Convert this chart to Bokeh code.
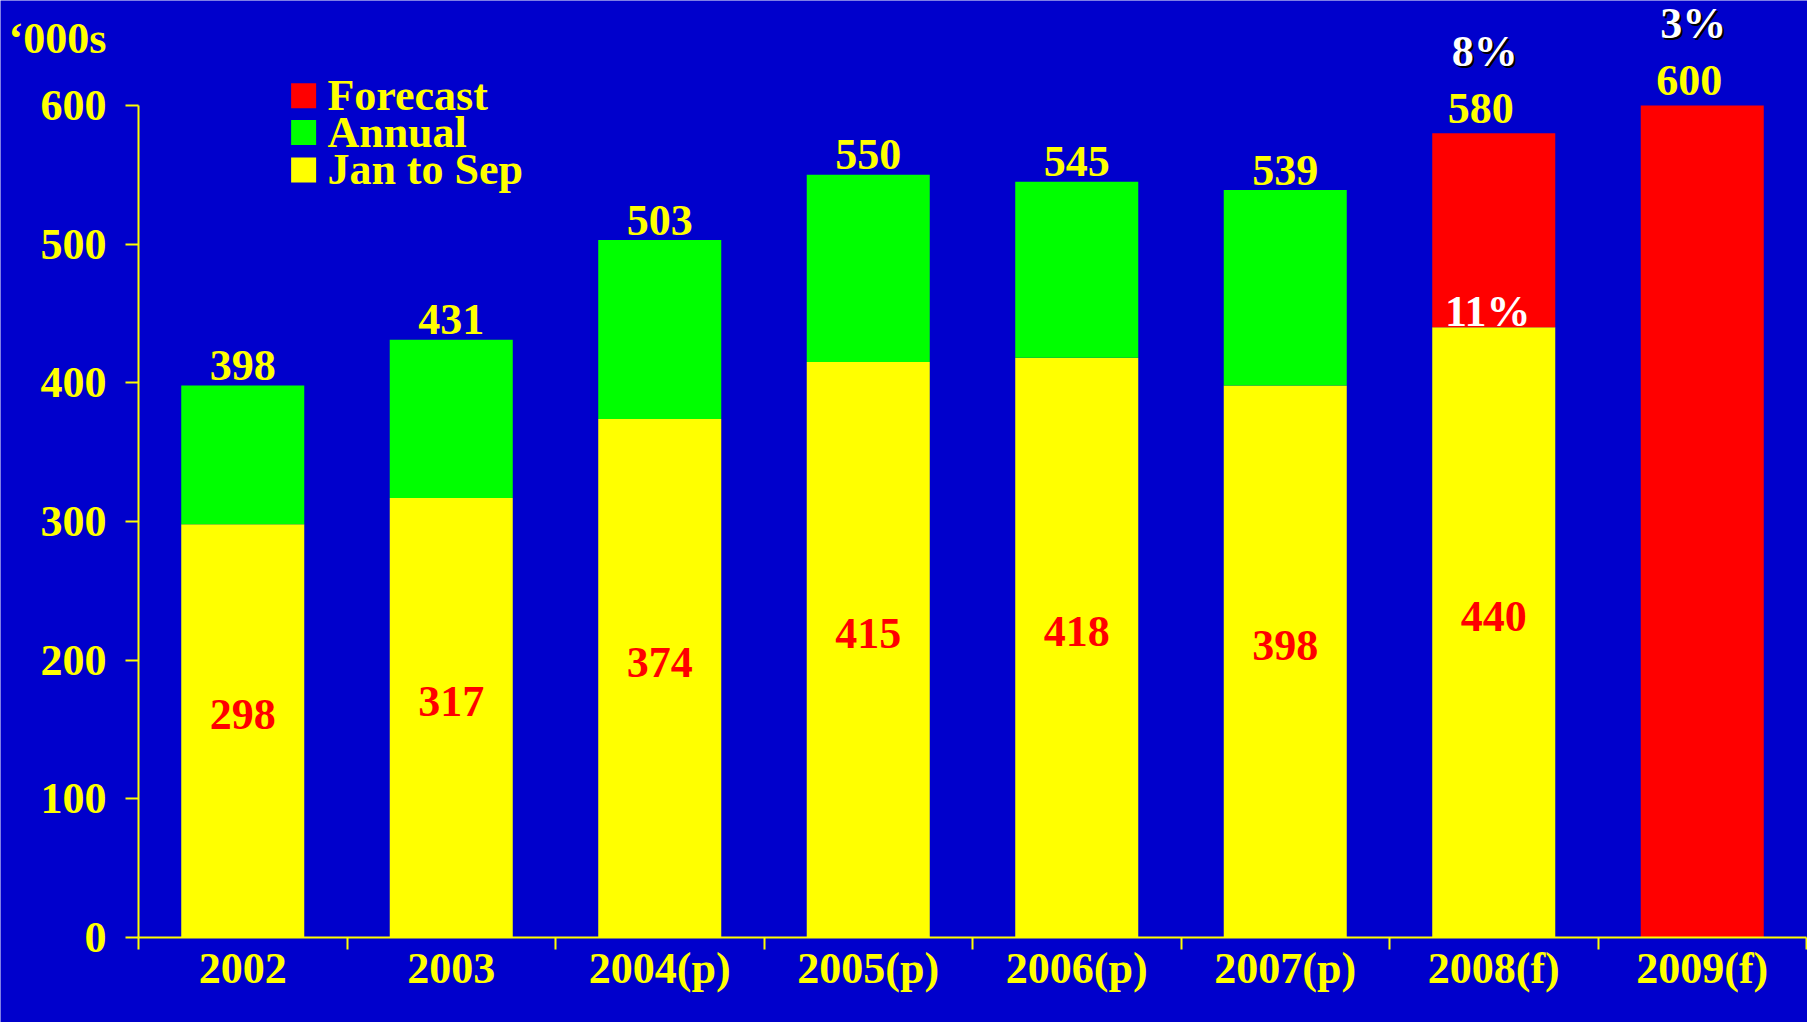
import re
from bokeh.plotting import figure
from bokeh.models import Range1d, FixedTicker, ColumnDataSource
from bokeh.core.properties import value
from bokeh.embed import file_html
from bokeh.resources import INLINE

# ---------------- data ----------------
years = ["2002", "2003", "2004(p)", "2005(p)", "2006(p)", "2007(p)", "2008(f)", "2009(f)"]
jan_sep = [298, 317, 374, 415, 418, 398, 440, None]
annual = [398, 431, 503, 550, 545, 539, None, None]
forecast = [None, None, None, None, None, None, 580, 600]
jan_growth = [None, None, None, None, None, None, "11%", None]
annual_growth = [None, None, None, None, None, None, "8%", "3%"]
legend_labels = ["Forecast", "Annual", "Jan to Sep"]
y_ticks = [0, 100, 200, 300, 400, 500, 600]
unit_label = "\u2018000s"

BG = "#0000CC"
YEL = "#FFFF00"
GRN = "#00FF00"
RED = "#FF0000"
FONT = "Liberation Serif"
FS = "44px"

W, H = 1807, 1022
X0 = 138           # page x of the y axis
PX_X = 208.5       # pixels per category
PX_Y = 1.38667     # pixels per unit
Y0 = 937           # page y of value 0
x_start = -X0 / PX_X
p = figure(width=W, height=H, output_backend="svg", toolbar_location=None,
           x_range=Range1d(x_start, x_start + W / PX_X),
           y_range=Range1d(-(H - Y0) / PX_Y, Y0 / PX_Y),
           min_border_left=0, min_border_right=0, min_border_top=0, min_border_bottom=0)
p.background_fill_color = BG
p.border_fill_color = BG
p.outline_line_color = None
p.xgrid.visible = False
p.ygrid.visible = False

xc = [i + 0.5 for i in range(len(years))]
BW = 0.59

# yellow (Jan to Sep)
ys = ColumnDataSource(dict(x=[xc[i] for i, v in enumerate(jan_sep) if v is not None],
                           top=[v for v in jan_sep if v is not None]))
p.vbar(x="x", top="top", bottom=0, width=BW, source=ys, fill_color=YEL, line_color=None)

# green (Annual)
gi = [i for i, v in enumerate(annual) if v is not None]
gs = ColumnDataSource(dict(x=[xc[i] for i in gi], bottom=[jan_sep[i] for i in gi], top=[annual[i] for i in gi]))
p.vbar(x="x", top="top", bottom="bottom", width=BW, source=gs, fill_color=GRN, line_color=None)

# red (Forecast)
fi = [i for i, v in enumerate(forecast) if v is not None]
fs = ColumnDataSource(dict(x=[xc[i] for i in fi], bottom=[jan_sep[i] or 0 for i in fi], top=[forecast[i] for i in fi]))
p.vbar(x="x", top="top", bottom="bottom", width=BW, source=fs, fill_color=RED, line_color=None)

def txt(**kw):
    r = p.text(text_font=value(FONT), text_font_style="bold", text_font_size=FS,
               text_baseline="middle", **kw)
    r.level = "overlay"
    return r

# red labels inside yellow bars
ji = [i for i, v in enumerate(jan_sep) if v is not None]
txt(x=[xc[i] for i in ji], y=[jan_sep[i] / 2 for i in ji], text=[str(jan_sep[i]) for i in ji],
    text_color=RED, text_align="center", y_offset=-16)

# totals above bars (actual)
txt(x=[xc[i] for i in gi], y=[annual[i] for i in gi], text=[str(annual[i]) for i in gi],
    text_color=YEL, text_align="center", y_offset=-20)
# totals above bars (forecast)
txt(x=[xc[i] for i in fi], y=[forecast[i] for i in fi], text=[str(forecast[i]) for i in fi],
    text_color=YEL, text_align="center", y_offset=-25, x_offset=-13)

# growth labels
jg = [i for i, v in enumerate(jan_growth) if v is not None]
txt(x=[xc[i] for i in jg], y=[jan_sep[i] for i in jg], text=[jan_growth[i] for i in jg],
    text_color="white", text_align="center", y_offset=-16, x_offset=-6)
ag = [i for i, v in enumerate(annual_growth) if v is not None]
tot = [forecast[i] if forecast[i] is not None else annual[i] for i in ag]
txt(x=[xc[i] for i in ag], y=tot, text=[annual_growth[i] for i in ag],
    text_color="black", text_align="center", y_offset=-80, x_offset=-7)
txt(x=[xc[i] for i in ag], y=tot, text=[annual_growth[i] for i in ag],
    text_color="white", text_align="center", y_offset=-82, x_offset=-9)

# legend (manual)
leg_y = [607, 580.5, 553.5]
leg_c = [RED, GRN, YEL]
p.scatter(x=[0.792] * 3, y=leg_y, marker="square", size=25, fill_color=leg_c, line_color=None)
txt(x=[0.906] * 3, y=leg_y, text=legend_labels, text_color=YEL, text_align="left")

# unit label
txt(x=[-0.154], y=[648], text=[unit_label], text_color=YEL, text_align="right")

# axes
xa = p.xaxis[0]
xa.fixed_location = 0
xa.ticker = FixedTicker(ticks=xc, minor_ticks=list(range(len(years) + 1)))
xa.major_label_overrides = {x: y for x, y in zip(xc, years)}
xa.bounds = (0, len(years))
xa.major_tick_out = 0
xa.major_tick_in = 0
xa.minor_tick_out = 12
xa.minor_tick_in = 0
xa.minor_tick_line_color = YEL
xa.minor_tick_line_width = 2
xa.axis_line_color = YEL
xa.axis_line_width = 2
xa.major_label_text_color = YEL
xa.major_label_text_font = FONT
xa.major_label_text_font_style = "bold"
xa.major_label_text_font_size = FS
xa.major_label_standoff = -6

ya = p.yaxis[0]
ya.fixed_location = 0
ya.ticker = FixedTicker(ticks=y_ticks)
ya.bounds = (0, 600)
ya.major_tick_out = 13
ya.major_tick_in = 0
ya.major_tick_line_color = YEL
ya.major_tick_line_width = 2
ya.minor_tick_line_color = None
ya.axis_line_color = YEL
ya.axis_line_width = 2
ya.major_label_text_color = YEL
ya.major_label_text_font = FONT
ya.major_label_text_font_style = "bold"
ya.major_label_text_font_size = FS
ya.major_label_standoff = 19

html = file_html(p, INLINE)
html = re.sub(r"<body>", '<body style="background-color:#0000CC;margin:0;overflow:hidden;">', html, count=1)
open("out.html", "w").write(html)
